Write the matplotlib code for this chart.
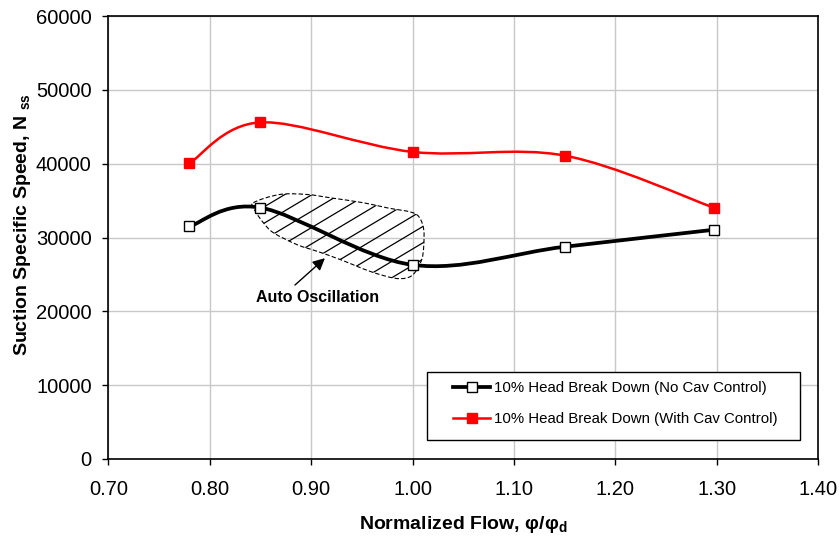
import matplotlib
matplotlib.use("Agg")
import matplotlib.pyplot as plt
import numpy as np
from matplotlib.path import Path
from matplotlib.patches import PathPatch, Rectangle
from matplotlib.lines import Line2D

plt.rcParams['font.family'] = ['Liberation Sans', 'DejaVu Sans']
plt.rcParams['mathtext.fontset'] = 'custom'
plt.rcParams['mathtext.rm'] = 'Liberation Sans'

flow = [0.78, 0.85, 1.00, 1.15, 1.297]
nss_no_cav = [31500, 34050, 26300, 28750, 31050]
nss_with_cav = [40050, 45600, 41600, 41100, 34050]

# outline of the auto oscillation zone
zone_x = [0.843, 0.869, 0.896, 0.919, 0.952, 0.975, 0.999, 1.007, 1.011, 1.011,
          1.009, 1.002, 0.994, 0.981, 0.958, 0.929, 0.906, 0.886, 0.863, 0.853, 0.845]
zone_y = [34700, 35830, 35830, 35380, 34700, 34020, 33420, 32660, 31070, 28810,
          27000, 25200, 24520, 24520, 25420, 27000, 28130, 29040, 30630, 31980, 33560]


def smooth_path(xs, ys, closed=False):
    # excel style smoothed line: bezier segments, tangents from neighbours
    p = np.column_stack([xs, ys]).astype(float)
    n = len(p)
    verts = [p[0]]
    codes = [Path.MOVETO]
    segs = n if closed else n - 1
    for i in range(segs):
        a = p[(i - 1) % n] if (closed or i > 0) else p[i]
        b = p[i]
        c = p[(i + 1) % n]
        d = p[(i + 2) % n] if (closed or i + 2 < n) else c
        verts += [b + (c - a) / 6, c - (d - b) / 6, c]
        codes += [Path.CURVE4] * 3
    return Path(verts, codes)


fig = plt.figure(figsize=(8.4, 5.36), dpi=100)
ax = fig.add_axes([0.129, 0.1437, 0.845, 0.8263])

ax.set_xlim(0.70, 1.40)
ax.set_ylim(0, 60000)
ax.set_xticks(np.arange(0.70, 1.401, 0.10))
ax.set_yticks(np.arange(0, 60001, 10000))
ax.set_xticklabels(["%.2f" % v for v in np.arange(0.70, 1.401, 0.10)])
ax.grid(True, color='#c8c8c8', linewidth=1)
ax.set_axisbelow(True)
for s in ax.spines.values():
    s.set_linewidth(1.2)
ax.tick_params(direction='out', length=4, width=1, labelsize=14.5)
ax.tick_params(axis='x', pad=11)
ax.tick_params(axis='y', pad=8)

# hatched zone
zone = smooth_path(zone_x, zone_y, closed=True)
outline = PathPatch(zone, facecolor='none', edgecolor='black', lw=0.8,
                    linestyle=(0, (4, 2)), zorder=2)
ax.add_patch(outline)
slope = 82000
for x0 in np.arange(0.60, 1.05, 0.027):
    hl, = ax.plot([x0, x0 + 0.3], [20000, 20000 + 0.3 * slope], color='black',
                  lw=0.9, zorder=2)
    hl.set_clip_path(outline)

# curves
no_cav = PathPatch(smooth_path(flow, nss_no_cav), facecolor='none',
                   edgecolor='black', lw=2.7, zorder=3)
ax.add_patch(no_cav)
ax.plot(flow, nss_no_cav, linestyle='none', marker='s', markersize=6.5,
        markerfacecolor='white', markeredgecolor='black', markeredgewidth=1,
        zorder=4)
with_cav = PathPatch(smooth_path(flow, nss_with_cav), facecolor='none',
                     edgecolor='red', lw=1.8, zorder=3)
ax.add_patch(with_cav)
ax.plot(flow, nss_with_cav, linestyle='none', marker='s', markersize=7,
        color='red', zorder=4)

ax.annotate("", xy=(0.9136, 27200), xytext=(0.884, 23560),
            arrowprops=dict(arrowstyle='-|>', color='black', lw=1,
                            mutation_scale=18, shrinkA=0, shrinkB=0))
ax.text(0.906, 21930, "Auto Oscillation", ha='center', va='center',
        fontsize=11.5, fontweight='bold')

ax.set_xlabel(r"Normalized Flow, φ/φ$_{\mathregular{d}}$", fontsize=14,
              fontweight='bold', labelpad=11)
ax.set_ylabel(r"Suction Specific Speed, N $_{\mathregular{ss}}$", fontsize=14,
              fontweight='bold', labelpad=10)
ax.yaxis.set_label_coords(-0.106, 0.53)

handles = [
    Line2D([], [], color='black', lw=2.7, marker='s', markersize=6.5,
           markerfacecolor='white', markeredgecolor='black', markeredgewidth=1),
    Line2D([], [], color='red', lw=1.8, marker='s', markersize=7),
]
labels = ["10% Head Break Down (No Cav Control)",
          "10% Head Break Down (With Cav Control)"]
leg = ax.legend(handles, labels, loc='center left',
                bbox_to_anchor=(0.4857, 0.1242), borderaxespad=0, borderpad=0,
                fontsize=10.8, frameon=False, handlelength=2.47,
                labelspacing=1.13, handletextpad=0.27)
ax.add_patch(Rectangle((0.449, 0.0429), 0.9746 - 0.449, 0.1964 - 0.0429,
                       transform=ax.transAxes, facecolor='white',
                       edgecolor='black', lw=1, zorder=5))
leg.set_zorder(6)

fig.savefig("out.png", dpi=100)
